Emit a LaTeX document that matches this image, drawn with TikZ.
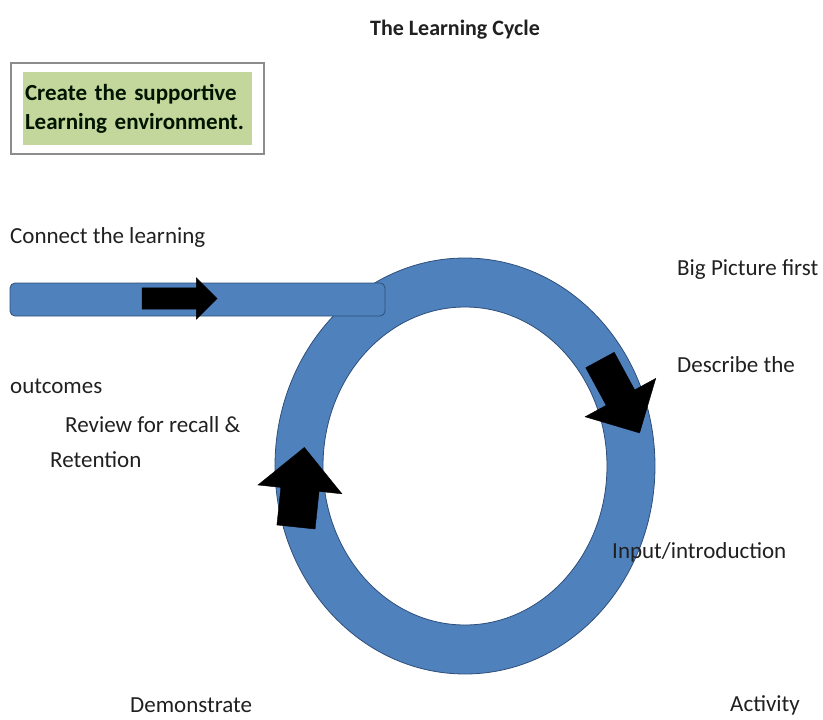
\documentclass[tikz,border=0pt]{standalone}
\usepackage{fontspec}
\setmainfont{Carlito}
\usetikzlibrary{positioning,shapes.arrows}
\definecolor{ringblue}{HTML}{4F81BD}
\definecolor{ringedge}{HTML}{2F4F7A}
\definecolor{boxgreen}{HTML}{C3D69B}
\definecolor{framegray}{HTML}{8C8C8C}
\definecolor{inkgray}{HTML}{202020}

\begin{document}
\begin{tikzpicture}[x=1pt,y=-1pt,
   lbl/.style={anchor=west, inner sep=0pt, text=inkgray, font=\fontsize{23}{27}\selectfont},
   head/.style={lbl, anchor=center, font=\fontsize{22}{26}\selectfont\bfseries},
   blockarrow/.style={single arrow, fill=black, draw=black, anchor=tail, inner sep=0pt, outer sep=0pt, minimum width=0pt, single arrow tip angle=90}]
   \useasboundingbox (0,0) rectangle (823,720);
   % the cycle
   \fill[ringblue, draw=ringedge, thick, even odd rule]
      (465,466) ellipse [x radius=190, y radius=208]
      (465,466) ellipse [x radius=142, y radius=159];
   \node[rectangle, rounded corners=5pt, fill=ringblue, draw=ringedge, thick, minimum width=375pt, minimum height=33pt] (bar) at (197.5,299.5) {};
   % block arrows
   \node[blockarrow, minimum height=75pt, inner ysep=10.5pt, single arrow head extend=10pt] (arr_1) at (142,298.5) {};
   \node[blockarrow, minimum height=83pt, inner ysep=16pt, single arrow head extend=24pt, rotate=-61.5] (arr_2) at (600,360) {};
   \node[blockarrow, minimum height=80pt, inner ysep=19pt, single arrow head extend=23pt, rotate=84] (arr_3) at (296,527) {};
   % texts
   \node[head] (title) at (455,30) {The Learning Cycle};
   \node[rectangle, fill=boxgreen, text width=225pt, inner xsep=2pt, minimum height=73pt, align=left, font=\fontsize{23}{29}\selectfont\bfseries, text=black!92!green] (setup) at (137.5,108.5) {Create the supportive\\Learning environment.};
   \node[rectangle, draw=framegray, line width=1.5pt, minimum width=253pt, minimum height=91pt] (frame) at (setup.center) {};
   \node[lbl] (connect) at (10,237) {Connect the learning};
   \node[lbl] (bigpic) at (677,270) {Big Picture first};
   \node[lbl] (describe) at (677,365) {Describe the};
   \node[lbl] (outcomes) at (10,386) {outcomes};
   \node[lbl] (review) at (65,425) {Review for recall \&};
   \node[lbl] (retention) at (50,460) {Retention};
   \node[lbl] (input) at (612,552) {Input/introduction};
   \node[lbl] (demo) at (130,705) {Demonstrate};
   \node[lbl] (activity) at (730,705) {Activity};
\end{tikzpicture}
\end{document}
